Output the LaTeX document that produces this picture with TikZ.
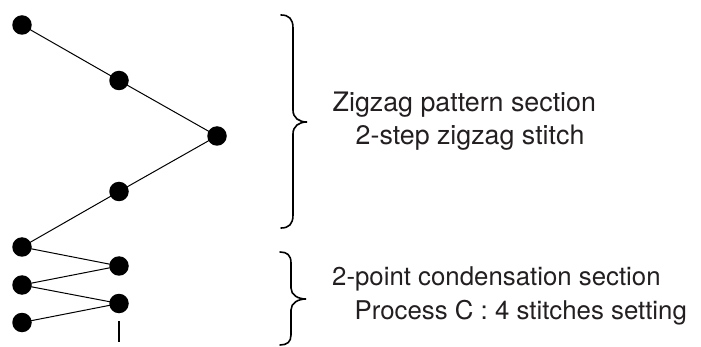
\documentclass[tikz,border=0pt]{standalone}
\usepackage{fontspec}
\setmainfont{TeX Gyre Heros}
\definecolor{txt}{HTML}{231F20}
\begin{document}
\begin{tikzpicture}[x=1pt,y=-1pt,
  dot/.style={circle,fill=black,inner sep=0pt,minimum size=19.5pt},
  link/.style={line width=1pt},
  brace/.style={line width=1.6pt,line cap=round},
  tick/.style={line width=1.4pt},
  lbl/.style={anchor=base west,inner sep=0pt,text=txt},
  lblA/.style={lbl,font=\fontsize{26.8}{32}\selectfont},
  lblB/.style={lbl,font=\fontsize{25.8}{31}\selectfont}]
\useasboundingbox (0,0) rectangle (701,347);
% dots
\node[dot] (d1) at (22,25) {};
\node[dot] (d2) at (119,80.5) {};
\node[dot] (d3) at (217,136) {};
\node[dot] (d4) at (119,191.5) {};
\node[dot] (d5) at (22,247) {};
\node[dot] (d6) at (119,266) {};
\node[dot] (d7) at (22,285) {};
\node[dot] (d8) at (119,303.5) {};
\node[dot] (d9) at (22,322.5) {};
% connectors
\draw[link] (d1.center) -- (d2.center) -- (d3.center) -- (d4.center) -- (d5.center)
  -- (d6.center) -- (d7.center) -- (d8.center) -- (d9.center);
% tick
\coordinate (t1) at (119,321);
\coordinate (t2) at (119,342);
\draw[tick] (t1) -- (t2);
% braces
\draw[brace] (281,15) .. controls (289,15) and (293,19) .. (293,28) -- (293,110)
  .. controls (293,118) and (299,122) .. (307,122)
  .. controls (299,122) and (293,126) .. (293,134) -- (293,215)
  .. controls (293,224) and (289,228) .. (281,228);
\draw[brace] (280,252) .. controls (287,252) and (291,255) .. (291,263) -- (291,288)
  .. controls (291,295) and (298,299) .. (306,299)
  .. controls (298,299) and (291,303) .. (291,310) -- (291,335)
  .. controls (291,342) and (287,345) .. (280,345);
% labels
\node[lblA] (z1) at (332.5,112) {Zigzag pattern section};
\node[lblA] (z2) at (355.5,145) {2-step zigzag stitch};
\node[lblB] (c1) at (332,286) {2-point condensation section};
\node[lblB] (c2) at (354.5,319) {Process C : 4 stitches setting};
\end{tikzpicture}
\end{document}
